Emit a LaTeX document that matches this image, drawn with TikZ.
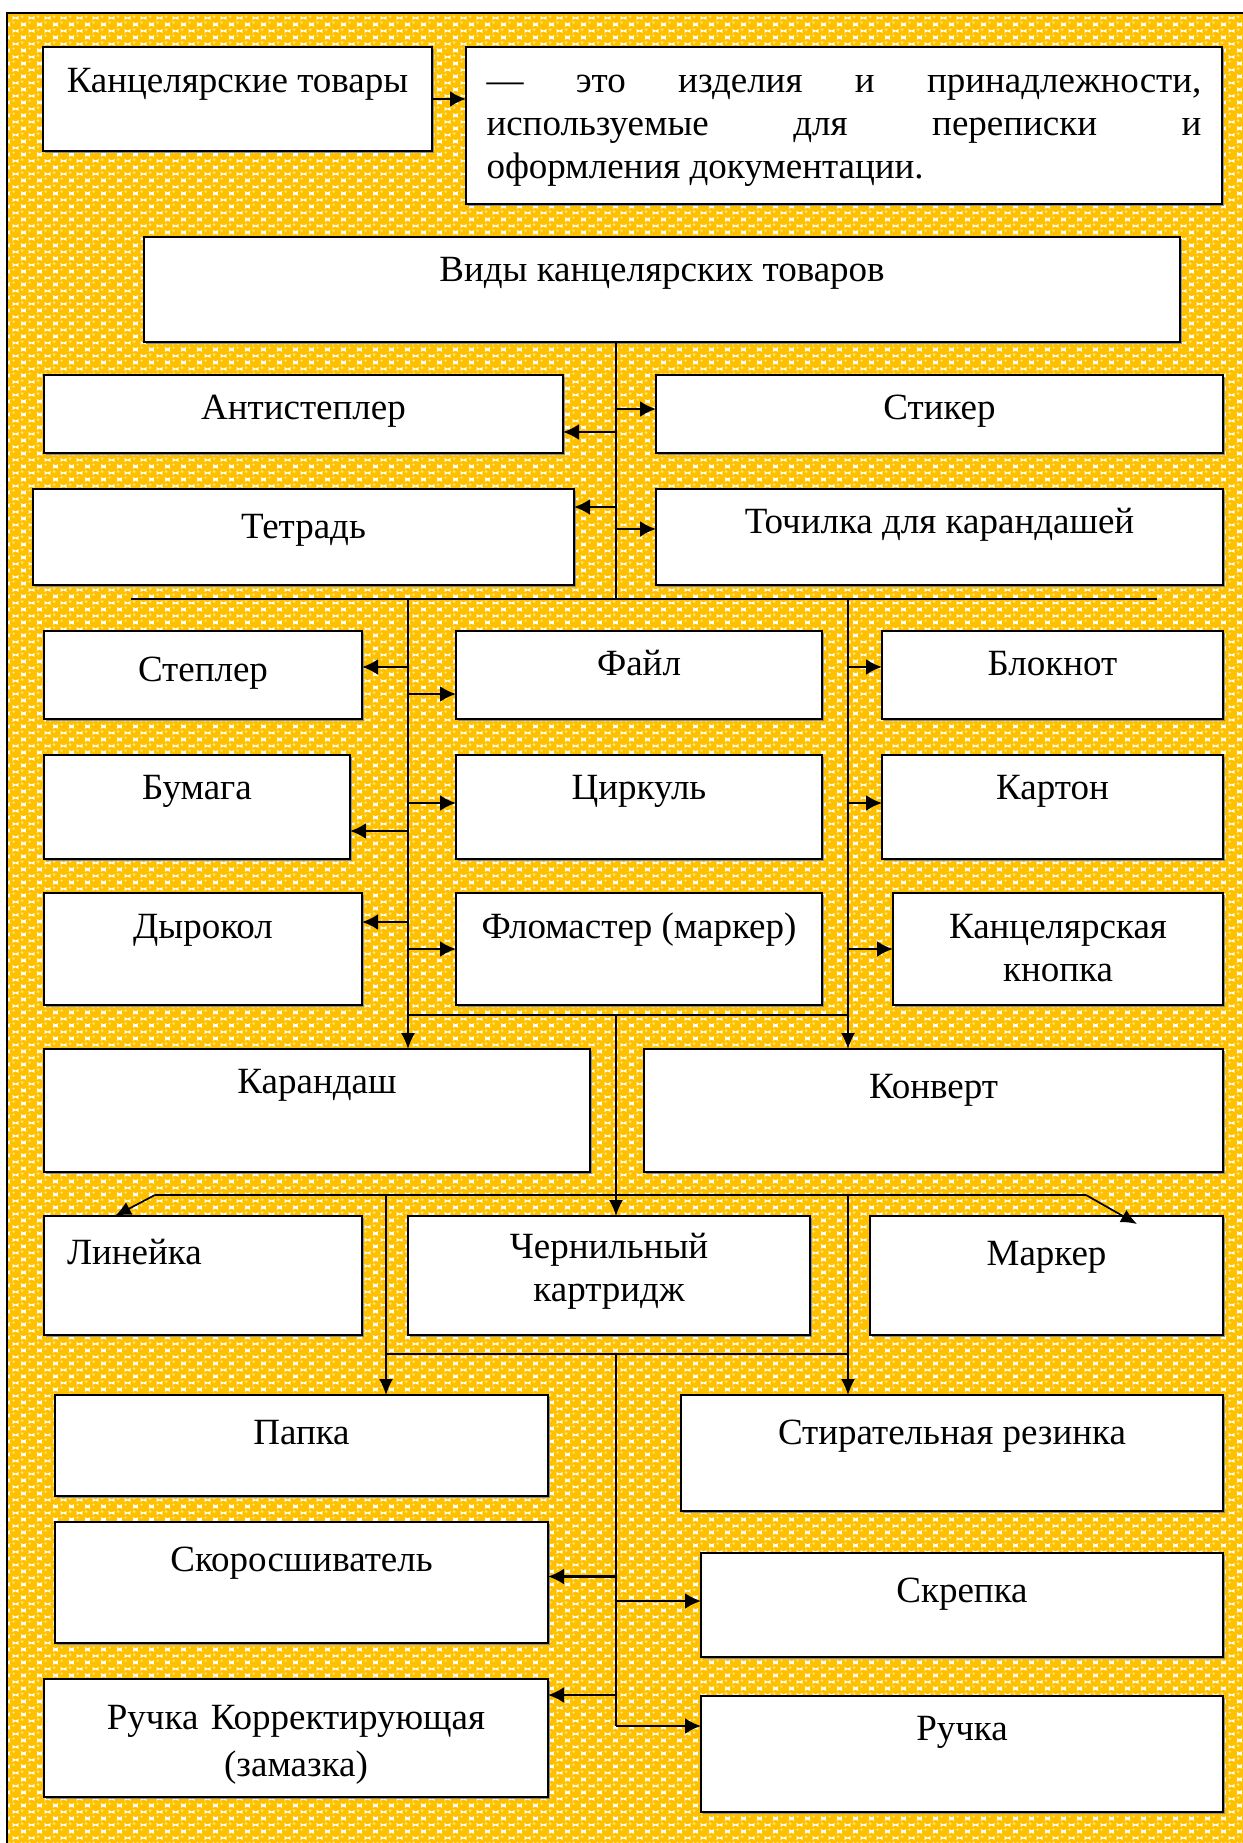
\documentclass[tikz,border=0pt]{standalone}
\usepackage{fontspec}
\setmainfont{Liberation Serif}
\usepackage{tikz}
\usetikzlibrary{arrows.meta}
\usetikzlibrary{patterns}
\usetikzlibrary{shadows}
\usepackage{color}
\definecolor{sunflower}{RGB}{255, 192, 0}
\definecolor{sunlight}{RGB}{255, 226, 110}
\pgfdeclarepatterninherentlycolored{spheres}
  {\pgfpointorigin}{\pgfpoint{16pt}{13pt}}{\pgfpoint{16pt}{13pt}}
  {
    \pgfsetfillcolor{white}
    \pgfpathrectangle{\pgfpointorigin}{\pgfpoint{16pt}{13pt}}
    \pgfusepath{fill}
    \pgfsetfillcolor{sunflower}
    \pgfpathcircle{\pgfpoint{0pt}{0pt}}{5.6pt}
    \pgfpathcircle{\pgfpoint{16pt}{0pt}}{5.6pt}
    \pgfpathcircle{\pgfpoint{0pt}{13pt}}{5.6pt}
    \pgfpathcircle{\pgfpoint{16pt}{13pt}}{5.6pt}
    \pgfpathcircle{\pgfpoint{8pt}{6.5pt}}{5.6pt}
    \pgfusepath{fill}
    \pgfsetfillcolor{sunlight}
    \pgfpathcircle{\pgfpoint{6.5pt}{8pt}}{1.7pt}
    \pgfpathcircle{\pgfpoint{14.5pt}{1.5pt}}{1.5pt}
    \pgfusepath{fill}
  }
\newcommand{\boxfont}{\fontsize{37}{43}\selectfont}

\begin{document}
\begin{tikzpicture}[x=1pt, y=-1pt,
    box/.style={draw=black, fill=white, line width=1.6pt, inner sep=0pt, outer sep=0pt, anchor=north west, font=\boxfont,
                drop shadow={shadow xshift=1.6pt, shadow yshift=-1.6pt, fill=black!45, opacity=1}},
    wrap/.style={box, align=center},
    line/.style={line width=1.8pt},
    arr/.style={line width=2.6pt, -{Latex[length=16pt, width=16pt]}},
    darr/.style={line width=1.7pt, -{Latex[length=16pt, width=14pt]}}]
            \useasboundingbox (0, 0) rectangle (1242, 1843);
            \fill[white]           (7, 13) rectangle (1262, 1862);
            \fill[pattern=spheres] (7, 13) rectangle (1262, 1862);
            \draw[line width=2pt]  (7, 1862) -- (7, 13) -- (1262, 13);

            \node[box, minimum width=389pt, text height=46pt, text depth=58pt] (kt) at ( 43, 47) {Канцелярские товары};
            \node[box, text width=715pt, inner xsep=20.5pt, align=justify, text height=46pt, text depth=111pt] (def) at (466, 47)
                 {— это изделия и принадлежности,\linebreak используемые для переписки и\linebreak оформления документации.};
            \node[box, minimum width=1036pt, text height=45pt, text depth=60pt] (vid)       at (144, 237) {Виды канцелярских товаров};

            \node[box, minimum width=519pt, text height=44pt, text depth=34pt] (antist)    at ( 44, 375) {Антистеплер};
            \node[box, minimum width=567pt, text height=44pt, text depth=34pt] (stiker)    at (656, 375) {Стикер};
            \node[box, minimum width=541pt, text height=49pt, text depth=47pt] (tetrad)    at ( 33, 489) {Тетрадь};
            \node[box, minimum width=567pt, text height=44pt, text depth=52pt] (tochilka)  at (656, 489) {Точилка для карандашей};

            \node[box, minimum width=318pt, text height=50pt, text depth=38pt] (stepler)   at ( 44, 631) {Степлер};
            \node[box, minimum width=366pt, text height=44pt, text depth=44pt] (fail)      at (456, 631) {Файл};
            \node[box, minimum width=341pt, text height=44pt, text depth=44pt] (bloknot)   at (882, 631) {Блокнот};
            \node[box, minimum width=306pt, text height=44pt, text depth=60pt] (bumaga)    at ( 44, 755) {Бумага};
            \node[box, minimum width=366pt, text height=44pt, text depth=60pt] (tsirkul)   at (456, 755) {Циркуль};
            \node[box, minimum width=341pt, text height=44pt, text depth=60pt] (karton)    at (882, 755) {Картон};
            \node[box, minimum width=318pt, text height=45pt, text depth=67pt] (dyrokol)   at ( 44, 893) {Дырокол};
            \node[box, minimum width=366pt, text height=45pt, text depth=67pt] (flomaster) at (456, 893) {Фломастер (маркер)};
            \node[wrap, text width=330pt,   text height=45pt, text depth=67pt] (knopka)    at (893, 893) {Канцелярская\\ кнопка};

            \node[box, minimum width=546pt, text height=44pt, text depth=79pt] (karandash) at ( 44, 1049) {Карандаш};
            \node[box, minimum width=579pt, text height=49pt, text depth=74pt] (konvert)   at (644, 1049) {Конверт};
            \node[box, text width=272pt, inner xsep=23pt, align=left, text height=48pt, text depth=71pt] (linejka) at ( 44, 1216) {Линейка};
            \node[wrap, text width=402pt,   text height=42pt, text depth=77pt] (chernil)   at (408, 1216) {Чернильный\\ картридж};
            \node[box, minimum width=353pt, text height=49pt, text depth=70pt] (marker)    at (870, 1216) {Маркер};

            \node[box, minimum width=493pt, text height=49pt, text depth=52pt] (papka)     at ( 55, 1395) {Папка};
            \node[box, minimum width=542pt, text height=49pt, text depth=67pt] (stiratel)  at (681, 1395) {Стирательная резинка};
            \node[box, minimum width=493pt, text height=49pt, text depth=72pt] (skorosh)   at ( 55, 1522) {Скоросшиватель};
            \node[box, minimum width=522pt, text height=49pt, text depth=55pt] (skrepka)   at (701, 1553) {Скрепка};
            \node[wrap, text width=504pt,   text height=50pt, text depth=68pt] (korrektor) at ( 44, 1679) {Ручка Корректирующая\\[4pt] (замазка)};
            \node[box, minimum width=522pt, text height=44pt, text depth=72pt] (ruchka)    at (701, 1696) {Ручка};

            \coordinate (t0)  at ( 616,  342);
            \coordinate (t1)  at ( 616,  599);
            \coordinate (h1l) at ( 131,  599);
            \coordinate (h1r) at (1157,  599);
            \coordinate (l1)  at ( 408,  599);
            \coordinate (r1)  at ( 848,  599);
            \coordinate (h2l) at ( 408, 1015);
            \coordinate (h2r) at ( 848, 1015);
            \coordinate (c2)  at ( 616, 1015);
            \coordinate (h3l) at ( 155, 1195);
            \coordinate (h3r) at (1086, 1195);
            \coordinate (l3)  at ( 386, 1195);
            \coordinate (r3)  at ( 848, 1195);
            \coordinate (lj)  at ( 115, 1216);
            \coordinate (mk)  at (1137, 1224);
            \coordinate (h4l) at ( 386, 1354);
            \coordinate (h4r) at ( 848, 1354);
            \coordinate (c4)  at ( 616, 1354);
            \coordinate (c4e) at ( 616, 1726);

            \draw[arr]  (kt.east) -- (kt.east -| def.west);
            \draw[line] (t0) -- (t1);
            \draw[line] (h1l) -- (h1r);
            \draw[arr]  ([yshift=5pt]stiker.west -| t0)    -- ([yshift=5pt]stiker.west);
            \draw[arr]  ([yshift=-18pt]antist.east -| t0)  -- ([yshift=-18pt]antist.east);
            \draw[arr]  ([yshift=30pt]tetrad.east -| t0)   -- ([yshift=30pt]tetrad.east);
            \draw[arr]  ([yshift=8pt]tochilka.west -| t0)  -- ([yshift=8pt]tochilka.west);

            \draw[darr] (l1) -- (l1 |- karandash.north);
            \draw[darr] (r1) -- (r1 |- konvert.north);
            \draw[arr]  ([yshift=8pt]stepler.east -| l1)   -- ([yshift=8pt]stepler.east);
            \draw[arr]  ([yshift=-19pt]fail.west -| l1)    -- ([yshift=-19pt]fail.west);
            \draw[arr]  ([yshift=-24pt]bumaga.east -| l1)  -- ([yshift=-24pt]bumaga.east);
            \draw[arr]  ([yshift=4pt]tsirkul.west -| l1)   -- ([yshift=4pt]tsirkul.west);
            \draw[arr]  ([yshift=27pt]dyrokol.east -| l1)  -- ([yshift=27pt]dyrokol.east);
            \draw[arr]  (flomaster.west -| l1)             -- (flomaster.west);
            \draw[arr]  ([yshift=8pt]bloknot.west -| r1)   -- ([yshift=8pt]bloknot.west);
            \draw[arr]  ([yshift=4pt]karton.west -| r1)    -- ([yshift=4pt]karton.west);
            \draw[arr]  (knopka.west -| r1)                -- (knopka.west);

            \draw[line] (h2l) -- (h2r);
            \draw[darr] (c2) -- (c2 |- chernil.north);
            \draw[line] (h3l) -- (h3r);
            \draw[darr] (h3l) -- (lj);
            \draw[darr] (h3r) -- (mk);
            \draw[darr] (l3) -- (l3 |- papka.north);
            \draw[darr] (r3) -- (r3 |- stiratel.north);

            \draw[line] (h4l) -- (h4r);
            \draw[line] (c4) -- (c4e);
            \draw[arr]  ([yshift=6pt]skorosh.east -| c4)    -- ([yshift=6pt]skorosh.east);
            \draw[arr]  ([yshift=4pt]skrepka.west -| c4)    -- ([yshift=4pt]skrepka.west);
            \draw[arr]  ([yshift=43pt]korrektor.east -| c4) -- ([yshift=43pt]korrektor.east);
            \draw[arr]  ([yshift=28pt]ruchka.west -| c4)    -- ([yshift=28pt]ruchka.west);
        \end{tikzpicture}
\end{document}
